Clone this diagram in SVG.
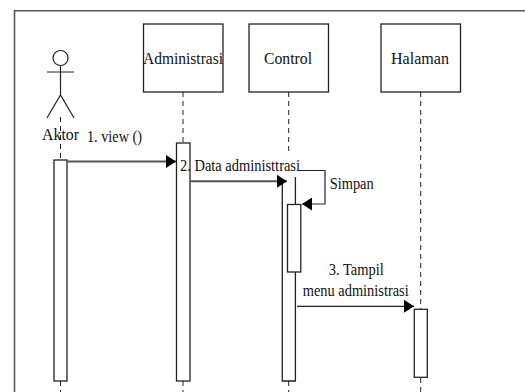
<svg xmlns="http://www.w3.org/2000/svg" width="525" height="392" viewBox="0 0 525 392">
<style>
.s{fill:#fff;stroke:#222;stroke-width:1.3}
.l{fill:none;stroke:#222;stroke-width:1.200}
.d{fill:none;stroke:#222;stroke-width:1;stroke-dasharray:5 4}
.m{fill:none;stroke:#555;stroke-width:2}
.t{font-family:"Liberation Serif",serif;font-size:17px;fill:#111}
.u{font-family:"Liberation Serif",serif;font-size:16px;fill:#111}
</style>
<defs>
<marker id="a" markerUnits="userSpaceOnUse" markerWidth="11" markerHeight="13" refX="10" refY="6.500" orient="auto"><path d="M0 0L10 6.500L0 13Z" fill="#000"/></marker>
</defs>
<rect width="525" height="392" fill="#fff"/>
<path d="M14.500 392V10.700H525" fill="none" stroke="#555" stroke-width="1.600"/>
<g id="lifelines">
<path class="d" d="M60.500 117V160M60.500 381V392"/>
<path class="d" d="M183 92V143M183 381V392"/>
<path class="d" d="M288.700 92V155M288.700 381V392"/>
<path class="d" d="M420.700 92V309M420.700 378V392"/>
</g>
<g id="aktor">
<circle class="l" cx="60.500" cy="58" r="7.500"/>
<path class="l" d="M47 72H74M60.500 65.500V95M47 118L60.500 95L74 118"/>
<text class="t" x="42" y="140" textLength="37" lengthAdjust="spacingAndGlyphs">Aktor</text>
<rect class="s" x="54" y="160" width="13" height="221"/>
</g>
<g id="administrasi">
<rect class="s" x="143.500" y="24" width="79.500" height="68"/>
<text class="t" x="143" y="64" textLength="80" lengthAdjust="spacingAndGlyphs">Administrasi</text>
<rect class="s" x="176.500" y="143" width="13.500" height="238"/>
</g>
<g id="control">
<rect class="s" x="249" y="24" width="79.500" height="68"/>
<text class="t" x="264" y="64" textLength="48" lengthAdjust="spacingAndGlyphs">Control</text>
<path class="s" d="M282.300 180V381H295.400V177"/>
<rect class="s" x="287.500" y="204.500" width="13.300" height="67.500"/>
</g>
<g id="halaman">
<rect class="s" x="381" y="24" width="79.500" height="68"/>
<text class="t" x="391" y="64" textLength="58" lengthAdjust="spacingAndGlyphs">Halaman</text>
<rect class="s" x="414.300" y="309.300" width="13" height="68"/>
</g>
<g id="connectors">
<path class="m" d="M67 161.500H176" marker-end="url(#a)"/>
<path class="m" d="M190 181.300H287" marker-end="url(#a)"/>
<path class="l" d="M298 170.500H325V204H302" marker-end="url(#a)"/>
<path class="l" d="M297 306.300H414" marker-end="url(#a)"/>
</g>
<g id="labels">
<text class="u" x="87" y="142" textLength="55" lengthAdjust="spacingAndGlyphs">1. view ()</text>
<text class="u" x="180" y="171" textLength="120" lengthAdjust="spacingAndGlyphs">2. Data administtrasi</text>
<text class="u" x="329.700" y="189" textLength="44" lengthAdjust="spacingAndGlyphs">Simpan</text>
<text class="u" x="328.700" y="274.500" textLength="55" lengthAdjust="spacingAndGlyphs">3. Tampil</text>
<text class="u" x="302.700" y="296" textLength="106" lengthAdjust="spacingAndGlyphs">menu administrasi</text>
</g>
</svg>
